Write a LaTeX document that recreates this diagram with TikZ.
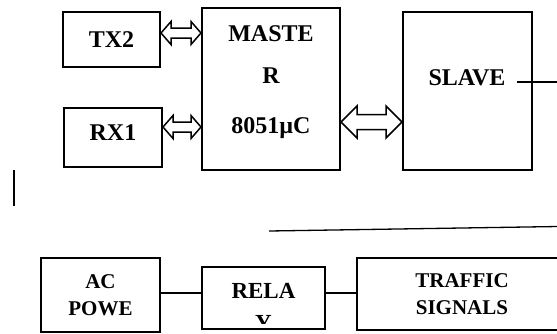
\documentclass[tikz,border=0pt]{standalone}
\usepackage{fontspec}
\setmainfont{Liberation Serif}
\usetikzlibrary{arrows.meta,positioning,calc}

\begin{document}
\begin{tikzpicture}[x=1pt, y=-1pt,
  box/.style={draw, line width=2pt, inner sep=0pt, align=center,
              font=\fontsize{24}{28}\selectfont\bfseries},
  lbl/.style={inner sep=0pt, align=center, font=\fontsize{24}{28}\selectfont\bfseries},
  small/.style={font=\fontsize{21}{27.5}\selectfont\bfseries},
  wire/.style={line width=1.3pt},
  % hollow two-headed arrow: head length, half head width, half shaft width
  dbl/.style n args={3}{line width=1.5pt, line join=miter,
    to path={(\tikztostart) -- ++(#1,-#2) -- ++(0,#2-#3)
      -- ($(\tikztotarget)+(-#1,-#3)$) -- ++(0,#3-#2) -- (\tikztotarget)
      -- ++(-#1,#2) -- ++(0,#3-#2) -- ($(\tikztostart)+(#1,#3)$)
      -- ++(0,#2-#3) -- cycle}},
  arr/.style={dbl={10}{11.5}{5}},
  bigarr/.style={dbl={16}{16}{7.5}}]
\clip (0,0) rectangle (557,333);
% controller part
\node[box, minimum width=97pt, minimum height=55pt] (tx2) at (111.5,39.5) {TX2};
\node[box, minimum width=98pt, minimum height=59pt] (rx1) at (113,137.5) {};
\node[lbl] (rx1txt) at (113,133) {RX1};
\node[box, minimum width=138pt, minimum height=162pt] (mst) at (271,89) {};
\node[lbl, font=\fontsize{24}{42}\selectfont\bfseries, anchor=north] (msttxt) at (271,25) {MASTE\\R\\[8pt]8051µC};
\node[box, minimum width=129pt, minimum height=158pt] (slv) at (467.5,91) {};
\node[lbl] (slvtxt) at (467,77.5) {SLAVE};
\draw[arr] ([yshift=6.5pt]tx2.east) to ([yshift=6.5pt]tx2.east -| mst.west);
\draw[arr] ([yshift=10.5pt]rx1.east) to ([yshift=10.5pt]rx1.east -| mst.west);
\draw[bigarr] ([yshift=-33pt]mst.east) to ([yshift=-33pt]mst.east -| slv.west);
% loose lines
\coordinate (sout) at (517,82);
\coordinate (send) at (558,82);
\coordinate (v1) at (14,170);
\coordinate (v2) at (14,206);
\coordinate (h1) at (269,231);
\coordinate (h2) at (558,226.5);
\draw[wire] (sout) -- (send);
\draw[wire] (v1) -- (v2);
\draw[wire] (h1) -- (h2);
% power part
\node[box, small, minimum width=119pt, minimum height=74pt] (acp) at (100.5,295) {AC\\POWE};
\node[box, minimum width=123pt, minimum height=62.5pt] (rly) at (263.5,297.75) {};
\begin{scope}
\clip (rly.north west) rectangle ([yshift=7pt]rly.south east);
\node[lbl, font=\fontsize{23}{31.5}\selectfont\bfseries, anchor=north] (rlytxt) at (263.5,283.5) {RELA\\Y};
\end{scope}
\node[box, small, minimum width=210pt, minimum height=72pt] (trf) at (462,294) {TRAFFIC\\SIGNALS};
\draw[wire] ([yshift=2pt]acp.east) -- ([yshift=2pt]acp.east -| rly.west);
\draw[wire] ([yshift=4.75pt]rly.east) -- ([yshift=4.75pt]rly.east -| trf.west);
\end{tikzpicture}
\end{document}
